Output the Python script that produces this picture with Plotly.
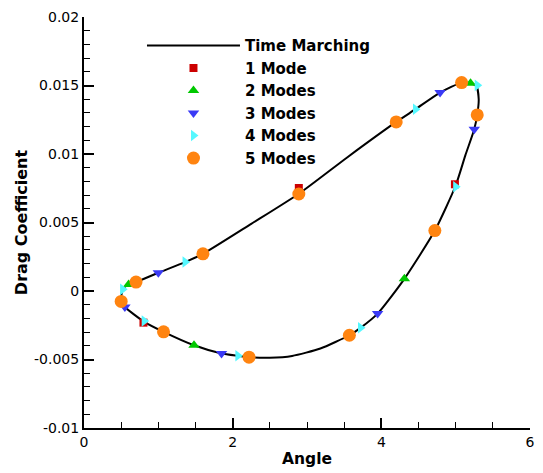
import plotly.graph_objects as go

# Time-marching loop
curve_x = [0.50, 0.52, 0.60, 0.70, 1.00, 1.36, 1.60, 2.25, 2.89, 3.54, 4.20, 4.46, 4.79, 5.08, 5.20, 5.28,
           5.31, 5.29, 5.25, 5.13, 5.00, 4.72, 4.31, 3.95, 3.72, 3.57, 3.18, 2.80, 2.50, 2.22, 2.07, 1.85,
           1.48, 1.07, 0.81, 0.55, 0.50]
curve_y = [-0.00076, 0.00012, 0.00048, 0.00065, 0.00133, 0.00211, 0.00271, 0.0049, 0.0071, 0.00975, 0.01234,
           0.01327, 0.01448, 0.01521, 0.01516, 0.01495, 0.0140, 0.01285, 0.01181, 0.0099, 0.0077, 0.00441,
           0.00089, -0.00165, -0.00269, -0.00323, -0.0042, -0.00474, -0.00487, -0.00483, -0.00473, -0.00456,
           -0.00396, -0.00298, -0.00225, -0.00117, -0.00076]

mode1_x = [2.89, 4.99, 0.80]
mode1_y = [0.00752, 0.00779, -0.00231]

mode2_x = [0.60, 1.48, 4.31, 5.20]
mode2_y = [0.00048, -0.00396, 0.00089, 0.01516]

mode3_x = [1.00, 0.55, 1.85, 3.95, 5.25, 4.79]
mode3_y = [0.00133, -0.00117, -0.00456, -0.00165, 0.01181, 0.01448]

mode4_x = [0.52, 1.36, 4.46, 5.29, 5.00, 3.72, 2.07, 0.81]
mode4_y = [0.00012, 0.00211, 0.01327, 0.01501, 0.00761, -0.00269, -0.00473, -0.00219]

mode5_x = [0.50, 0.70, 1.60, 2.89, 4.20, 5.08, 5.29, 4.72, 3.57, 2.22, 1.07]
mode5_y = [-0.00076, 0.00065, 0.00271, 0.00708, 0.01234, 0.01521, 0.01285, 0.00441, -0.00323, -0.00483, -0.00298]

x_ticks = [0, 2, 4, 6]
y_ticks = [-0.01, -0.005, 0, 0.005, 0.01, 0.015, 0.02]
y_ticktext = ["-0.01", "-0.005", "0", "0.005", "0.01", "0.015", "0.02"]

FONT = "DejaVu Sans, Arial, sans-serif"

fig = go.Figure()
fig.add_trace(go.Scatter(x=curve_x, y=curve_y, mode="lines", name="Time Marching",
                         line=dict(color="black", width=2, shape="spline", smoothing=0.6)))
fig.add_trace(go.Scatter(x=mode1_x, y=mode1_y, mode="markers", name="1 Mode",
                         marker=dict(symbol="square", size=8, color="#cc0000", line=dict(width=0))))
fig.add_trace(go.Scatter(x=mode2_x, y=mode2_y, mode="markers", name="2 Modes",
                         marker=dict(symbol="triangle-up", size=10, color="#00c800", line=dict(width=0))))
fig.add_trace(go.Scatter(x=mode3_x, y=mode3_y, mode="markers", name="3 Modes",
                         marker=dict(symbol="triangle-down", size=10, color="#3a3af5", line=dict(width=0))))
fig.add_trace(go.Scatter(x=mode4_x, y=mode4_y, mode="markers", name="4 Modes",
                         marker=dict(symbol="triangle-right", size=10, color="#55f8ff", line=dict(width=0))))
fig.add_trace(go.Scatter(x=mode5_x, y=mode5_y, mode="markers", name="5 Modes",
                         marker=dict(symbol="circle", size=13, color="#ff8410", line=dict(width=0))))

axis_common = dict(showgrid=False, zeroline=False, showline=True, linecolor="black", linewidth=2,
                   ticks="inside", ticklen=10, tickwidth=2, tickcolor="black", mirror=False,
                   tickfont=dict(family=FONT, size=14, color="black"))

fig.update_xaxes(range=[0, 6], tickvals=x_ticks, ticktext=[str(v) for v in x_ticks],
                 minor=dict(ticks="inside", dtick=0.5, ticklen=6, tickwidth=1, tickcolor="black"),
                 title=dict(text="<b>Angle</b>", font=dict(family=FONT, size=15.5, color="black"), standoff=4),
                 **axis_common)
fig.update_yaxes(range=[-0.01, 0.02], tickvals=y_ticks, ticktext=y_ticktext,
                 minor=dict(ticks="inside", dtick=0.001, ticklen=6, tickwidth=1, tickcolor="black"),
                 title=dict(text="<b>Drag Coefficient</b>", font=dict(family=FONT, size=16, color="black"),
                            standoff=2),
                 **axis_common)

fig.update_layout(
    width=543, height=473,
    margin=dict(l=84, r=8, t=17, b=44),
    plot_bgcolor="white", paper_bgcolor="white",
    font=dict(family=FONT, color="black"),
    legend=dict(x=0.13, y=0.97, xanchor="left", yanchor="top", bgcolor="rgba(0,0,0,0)",
                font=dict(family=FONT, size=15, color="black", weight="bold"),
                itemwidth=93, tracegroupgap=0),
)

fig.write_html("out.html")
